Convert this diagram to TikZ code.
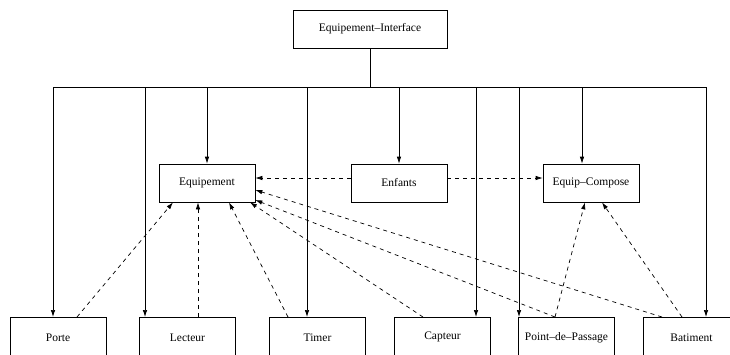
\documentclass[tikz,border=0pt]{standalone}
\usepackage{fontspec}
\setmainfont{Liberation Serif}
\usetikzlibrary{arrows.meta}
\begin{document}
\begin{tikzpicture}[x=1pt,y=-1pt,
  box/.style={draw, line width=0.7pt, minimum width=96pt, minimum height=38pt,
    inner sep=0pt, font=\fontsize{11.5}{13}\selectfont},
  lowbox/.style={box, minimum height=40pt, anchor=north},
  link/.style={line width=0.7pt, -{Latex[length=7pt,width=4.5pt]}},
  dep/.style={link, dash pattern=on 4pt off 4pt}]
\useasboundingbox (0,0) rectangle (730,354);
\clip (0,0) rectangle (730,354);

% interface and its three middle-level boxes
\node[box, minimum width=154pt] (iface) at (370,29) {Equipement--Interface};
\node[box] (equip) at (207,183) {Equipement};
\node[box] (enf)   at (399,183) {Enfants};
\node[box] (comp)  at (591,183) {Equip--Compose};

% bottom row (runs past the lower edge)
\node[lowbox] (porte)   at (58,317)    {Porte};
\node[lowbox] (lect)    at (187.5,317) {Lecteur};
\node[lowbox] (timer)   at (317.5,317) {Timer};
\node[lowbox] (capt)    at (442.5,317) {Capteur};
\node[lowbox] (pdp)     at (566.5,317) {Point--de--Passage};
\node[lowbox] (bat)     at (691.5,317) {Batiment};

% bus fed by the interface
\coordinate (bus) at (370,87);
\coordinate (inPorte) at ([xshift=-5pt]porte.north);
\coordinate (inLect)  at ([xshift=-42.5pt]lect.north);
\coordinate (inTimer) at ([xshift=-10.5pt]timer.north);
\coordinate (inCapt)  at ([xshift=33.5pt]capt.north);
\coordinate (inPdp)   at ([xshift=-47.5pt]pdp.north);
\coordinate (inBat)   at ([xshift=14.5pt]bat.north);
\coordinate (inComp)  at ([xshift=-9pt]comp.north);

\draw[line width=0.7pt] (iface.south) -- (bus);
\draw[line width=0.7pt] (bus -| inPorte) -- (bus -| inBat);
\foreach \t in {inPorte,inLect,inTimer,inCapt,inPdp,inBat,inComp}
  \draw[link] (bus -| \t) -- (\t);
\draw[link] (bus -| equip.north) -- (equip.north);
\draw[link] (bus -| enf.north) -- (enf.north);

% Enfants to both sides
\draw[dep] ([yshift=5pt]enf.west) -- ([yshift=5pt]equip.east);
\draw[dep] ([yshift=5pt]enf.east) -- ([yshift=5pt]comp.west);

% dependencies to Equipement
\draw[dep] ([xshift=19pt]porte.north)   -- ([xshift=-34pt]equip.south);
\draw[dep] ([xshift=10.5pt]lect.north)  -- ([xshift=-9pt]equip.south);
\draw[dep] ([xshift=-29.5pt]timer.north) -- ([xshift=22pt]equip.south);
\draw[dep] ([xshift=-19.5pt]capt.north) -- ([xshift=43pt]equip.south);
\draw[dep] ([xshift=-11.5pt]pdp.north)  -- ([yshift=-17pt]equip.east);
\draw[dep] ([xshift=-29.5pt]bat.north)  -- ([yshift=-7pt]equip.east);

% dependencies to Equip-Compose
\draw[dep] ([xshift=-11.5pt]pdp.north) -- ([xshift=-6pt]comp.south);
\draw[dep] ([xshift=-9.5pt]bat.north)  -- ([xshift=11pt]comp.south);
\end{tikzpicture}
\end{document}
